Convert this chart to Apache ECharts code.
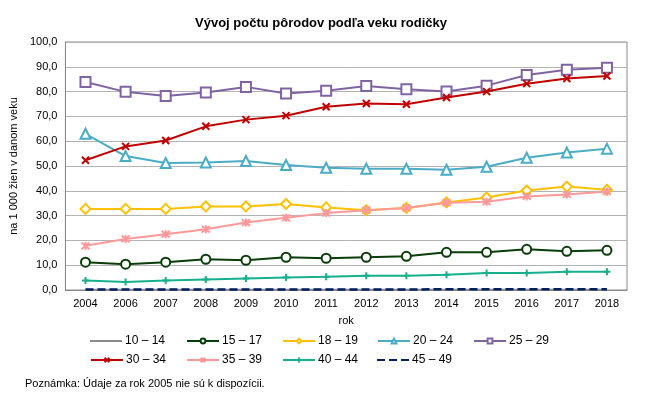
<!DOCTYPE html>
<html><head><meta charset="utf-8">
<script src="https://cdn.jsdelivr.net/npm/echarts@6/dist/echarts.min.js"></script>
<style>html,body{margin:0;padding:0;background:#fff}#c{width:645px;height:400px}</style>
</head><body><div id="c"></div>
<script>
const categories = ['2004','2006','2007','2008','2009','2010','2011','2012','2013','2014','2015','2016','2017','2018'];
const s10_14 = [0.1,0.1,0.1,0.1,0.1,0.1,0.1,0.1,0.1,0.1,0.1,0.1,0.1,0.1];
const s15_17 = [11.2,10.4,11.2,12.4,12.0,13.2,12.8,13.2,13.6,15.2,15.2,16.4,15.6,16.0];
const s18_19 = [32.7,32.7,32.7,33.7,33.7,34.7,33.3,32.2,33.1,35.3,37.3,40.1,41.7,40.4];
const s20_24 = [63.0,54.0,51.2,51.4,52.0,50.4,49.3,48.9,48.9,48.5,49.7,53.3,55.4,57.0];
const s25_29 = [83.9,79.9,78.2,79.6,81.9,79.2,80.3,82.3,80.9,80.0,82.4,86.7,88.8,89.6];
const s30_34 = [52.3,57.9,60.3,66.0,68.7,70.3,73.9,75.2,74.9,77.6,80.0,83.2,85.3,86.3];
const s35_39 = [17.8,20.6,22.5,24.5,27.2,29.1,31.0,32.2,33.1,35.2,35.6,37.7,38.5,39.7];
const s40_44 = [3.8,3.2,3.8,4.2,4.6,5.0,5.3,5.7,5.7,6.1,6.9,6.9,7.4,7.4];
const s45_49 = [0.2,0.2,0.2,0.2,0.2,0.2,0.2,0.2,0.2,0.3,0.3,0.3,0.3,0.3];
const yTicks = ['0,0','10,0','20,0','30,0','40,0','50,0','60,0','70,0','80,0','90,0','100,0'];
const names = ['10 – 14','15 – 17','18 – 19','20 – 24','25 – 29','30 – 34','35 – 39','40 – 44','45 – 49'];
const dataArr = [s10_14,s15_17,s18_19,s20_24,s25_29,s30_34,s35_39,s40_44,s45_49];
const colors = ['#8c8c8c','#0a3d0a','#ffc000','#4bacc6','#8064a2','#c00000','#ff9999','#16b08e','#002060'];
const X = 'path://M0,0L10,10M10,0L0,10';
const AST = 'path://M0,0L10,10M10,0L0,10M5,-1L5,11';
const PLUS = 'path://M0,5L10,5M5,0L5,10';
const sym = ['none','circle','diamond','triangle','rect',X,AST,PLUS,'none'];
const symSize = [0,9,10,10,10,7,8,7,0];
const fillC = ['#fff','#fff','#fff','#fff','#fff',null,null,null,null];

const series = names.map((n,i)=>({
  name:n, type:'line', data:dataArr[i], symbol:sym[i], symbolSize:symSize[i], showSymbol: sym[i]!=='none',
  lineStyle:{color:colors[i], width: i===8?2.5:2, type: i===8?[8,4]:'solid'},
  itemStyle:{color: fillC[i]||colors[i], borderColor:colors[i], borderWidth:2},
  z: 2+i, animation:false
}));

const solidIcon = 'path://M0,0h32v2h-32z';
const dashIcon = 'path://M0,0h8v2h-8zM12,0h8v2h-8zM24,0h8v2h-8z';
const legendPos = [[90,335],[186,335],[282,335],[377,335],[473,335],[90,354],[186,354],[282,354],[377,354]];
const legends = names.map((n,i)=>{
  const d = {name:n};
  if (i===0 || i===8) {
    d.icon = i===0 ? solidIcon : dashIcon;
    d.itemStyle = {color: colors[i], borderWidth:0};
  }
  return {
    data:[d], left:legendPos[i][0], top:legendPos[i][1], itemWidth:32, itemHeight:(i===0||i===8)?2.5:6, itemGap:0,
    padding:0, selectedMode:false,
    textStyle:{fontFamily:'Liberation Sans', fontSize:12, color:'#000', padding:[0,0,0,-2]}
  };
});

const chart = echarts.init(document.getElementById('c'), null, {renderer:'canvas'});
chart.setOption({
  animation:false,
  color: colors,
  title:{text:'Vývoj počtu pôrodov podľa veku rodičky', left:190, top:12,
    textStyle:{fontFamily:'Liberation Sans', fontSize:13, fontWeight:'bold', color:'#000'}},
  grid:{left:63, right:18, top:42, bottom:110, show:true, borderColor:'#8a8a8a', borderWidth:1},
  xAxis:{type:'category', data:categories, boundaryGap:true, name:'rok', nameLocation:'middle', nameGap:25,
    nameTextStyle:{fontFamily:'Liberation Sans', fontSize:11, color:'#000'},
    axisLine:{lineStyle:{color:'#8a8a8a'}}, axisTick:{show:false},
    axisLabel:{fontFamily:'Liberation Sans', fontSize:11, color:'#000', margin:8}},
  yAxis:{type:'value', min:0, max:100, interval:10, name:'na 1 000 žien v danom veku', nameLocation:'middle', nameGap:38,
    nameTextStyle:{fontFamily:'Liberation Sans', fontSize:11, color:'#000'},
    axisLine:{show:true, lineStyle:{color:'#8a8a8a'}}, axisTick:{show:false},
    splitLine:{lineStyle:{color:'#b3b3b3'}},
    axisLabel:{fontFamily:'Liberation Sans', fontSize:11, color:'#000', margin:8,
      formatter:(v)=>yTicks[Math.round(v/10)]}},
  legend: legends,
  graphic:[{type:'text', left:25, top:378, style:{text:'Poznámka: Údaje za rok 2005 nie sú k dispozícii.', font:'11px "Liberation Sans"', fill:'#000'}}],
  series: series
});
</script></body></html>
